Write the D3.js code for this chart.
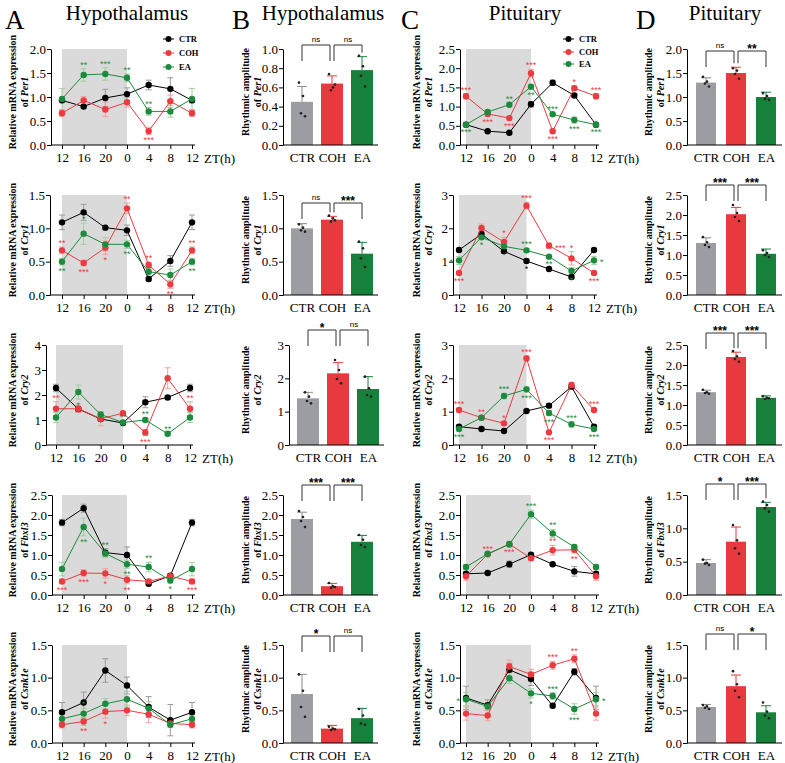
<!DOCTYPE html>
<html>
<head>
<meta charset="utf-8">
<script src="https://cdn.jsdelivr.net/npm/d3@7"></script>
<style>
  body { margin: 0; background: #fff; }
</style>
</head>
<body>
<div id="app"></div>
<script>
// Shared categories
const ztLabels = ["12", "16", "20", "0", "4", "8", "12"];
const groups = ["CTR", "COH", "EA"];
const genes = ["Per1", "Cry1", "Cry2", "Fbxl3", "Csnk1e"];
const SERIF = "Liberation Serif";

// Hypothalamus time courses: rows are CTR, COH, EA
const hypPer1 = [[0.93, 0.80, 0.98, 1.06, 1.25, 1.17, 0.93], [0.66, 0.93, 0.74, 0.89, 0.29, 0.91, 0.66], [0.96, 1.46, 1.48, 1.40, 0.70, 0.70, 0.96]];
const hypPer1Err = [[0.05, 0.04, 0.18, 0.13, 0.10, 0.23, 0.05], [0.06, 0.08, 0.15, 0.10, 0.07, 0.13, 0.06], [0.22, 0.13, 0.13, 0.08, 0.08, 0.12, 0.22]];
const hypPer1Sig = [[2, 1, "**", "u"], [2, 2, "***", "u"], [2, 3, "**", "u"], [2, 4, "**", "u"], [1, 4, "***", "d"]];

const hypCry1 = [[1.09, 1.24, 1.01, 0.97, 0.24, 0.51, 1.09], [0.67, 0.48, 0.71, 1.30, 0.45, 0.16, 0.67], [0.50, 0.92, 0.76, 0.76, 0.35, 0.30, 0.50]];
const hypCry1Err = [[0.11, 0.12, 0.02, 0.08, 0.03, 0.08, 0.11], [0.05, 0.04, 0.10, 0.08, 0.04, 0.06, 0.05], [0.05, 0.16, 0.10, 0.06, 0.05, 0.09, 0.05]];
const hypCry1Sig = [[1, 0, "**", "u"], [1, 1, "***", "d"], [1, 2, "*", "d"], [1, 3, "**", "u"], [1, 4, "**", "u"], [1, 5, "**", "d"], [1, 6, "**", "u"], [2, 0, "**", "d"], [2, 1, "*", "u"], [2, 3, "**", "d"], [2, 6, "**", "d"]];

const hypCry2 = [[2.28, 1.44, 1.04, 0.88, 1.71, 1.90, 2.28], [1.45, 1.45, 1.05, 1.27, 0.50, 2.67, 1.45], [1.10, 2.12, 1.22, 0.90, 1.00, 0.45, 1.10]];
const hypCry2Err = [[0.15, 0.10, 0.08, 0.06, 0.22, 0.08, 0.15], [0.28, 0.15, 0.28, 0.08, 0.12, 0.42, 0.28], [0.20, 0.28, 0.12, 0.06, 0.08, 0.05, 0.20]];
const hypCry2Sig = [[1, 0, "**", "u"], [1, 4, "***", "d"], [1, 6, "**", "u"], [2, 1, "*", "d"], [2, 3, "**", "u"], [2, 4, "**", "u"], [2, 5, "**", "u"]];

const hypFbxl3 = [[1.81, 2.17, 1.06, 1.00, 0.28, 0.48, 1.81], [0.34, 0.55, 0.54, 0.38, 0.34, 0.47, 0.34], [0.65, 1.70, 1.04, 0.77, 0.70, 0.36, 0.65]];
const hypFbxl3Err = [[0.08, 0.10, 0.10, 0.20, 0.03, 0.05, 0.08], [0.06, 0.08, 0.12, 0.10, 0.05, 0.05, 0.06], [0.17, 0.22, 0.10, 0.10, 0.12, 0.06, 0.17]];
const hypFbxl3Sig = [[1, 0, "***", "d"], [1, 1, "***", "d"], [1, 2, "*", "d"], [1, 3, "**", "d"], [1, 6, "***", "d"], [2, 1, "**", "d"], [2, 2, "**", "u"], [2, 3, "**", "d"], [2, 4, "**", "u"], [2, 5, "*", "d"]];

const hypCsnk1e = [[0.47, 0.62, 1.11, 0.88, 0.55, 0.35, 0.47], [0.28, 0.33, 0.48, 0.50, 0.44, 0.30, 0.28], [0.37, 0.45, 0.60, 0.67, 0.53, 0.28, 0.37]];
const hypCsnk1eErr = [[0.15, 0.16, 0.18, 0.13, 0.16, 0.24, 0.15], [0.05, 0.06, 0.10, 0.08, 0.13, 0.03, 0.05], [0.06, 0.08, 0.08, 0.12, 0.10, 0.04, 0.06]];
const hypCsnk1eSig = [[1, 1, "**", "d"], [1, 2, "*", "d"], [2, 1, "*", "u"]];

// Pituitary time courses: rows are CTR, COH, EA
const pitPer1 = [[0.53, 0.36, 0.32, 1.06, 1.62, 1.29, 0.53], [1.27, 0.81, 0.70, 1.87, 0.36, 1.48, 1.27], [0.53, 0.86, 1.05, 1.52, 0.80, 0.65, 0.53]];
const pitPer1Err = [[0.04, 0.03, 0.03, 0.07, 0.07, 0.05, 0.04], [0.07, 0.05, 0.04, 0.10, 0.05, 0.06, 0.07], [0.04, 0.05, 0.05, 0.06, 0.04, 0.08, 0.04]];
const pitPer1Sig = [[1, 0, "***", "u"], [1, 1, "***", "d"], [1, 2, "***", "d"], [1, 3, "***", "u"], [1, 4, "***", "d"], [1, 5, "*", "u"], [1, 6, "***", "u"], [2, 0, "***", "d"], [2, 2, "**", "u"], [2, 3, "**", "d"], [2, 4, "***", "u"], [2, 5, "***", "d"], [2, 6, "***", "d"]];

const pitCry1 = [[1.35, 1.83, 1.31, 1.02, 0.78, 0.54, 1.35], [0.66, 2.01, 1.59, 2.68, 1.48, 1.10, 0.66], [1.04, 1.73, 1.46, 1.34, 1.15, 0.72, 1.04]];
const pitCry1Err = [[0.05, 0.08, 0.05, 0.05, 0.04, 0.05, 0.05], [0.05, 0.12, 0.14, 0.10, 0.08, 0.20, 0.05], [0.12, 0.06, 0.06, 0.06, 0.05, 0.10, 0.12]];
const pitCry1Sig = [[1, 0, "***", "d"], [1, 2, "*", "u"], [1, 3, "***", "u"], [1, 4, "***", "r"], [1, 5, "*", "u"], [1, 6, "***", "d"], [2, 0, "*", "l"], [2, 1, "*", "d"], [2, 3, "***", "u"], [0, 3, "*", "d"], [2, 4, "**", "d"], [2, 5, "*", "d"], [2, 6, "*", "r"]];

const pitCry2 = [[0.55, 0.48, 0.42, 1.02, 1.18, 1.75, 0.55], [1.05, 0.82, 0.65, 2.60, 0.38, 1.80, 1.05], [0.48, 0.82, 1.47, 1.67, 0.96, 0.62, 0.48]];
const pitCry2Err = [[0.05, 0.04, 0.04, 0.04, 0.06, 0.06, 0.05], [0.05, 0.06, 0.05, 0.08, 0.04, 0.08, 0.05], [0.05, 0.06, 0.08, 0.08, 0.08, 0.08, 0.05]];
const pitCry2Sig = [[1, 0, "***", "u"], [1, 1, "**", "u"], [1, 2, "*", "u"], [1, 3, "***", "u"], [1, 4, "***", "d"], [1, 6, "***", "u"], [2, 0, "***", "d"], [2, 2, "***", "u"], [2, 3, "***", "d"], [2, 4, "***", "d"], [2, 5, "***", "u"], [2, 6, "***", "d"]];

const pitFbxl3 = [[0.53, 0.55, 0.77, 1.01, 0.77, 0.59, 0.53], [0.47, 1.02, 1.27, 0.92, 1.12, 1.13, 0.47], [0.70, 1.03, 1.27, 2.02, 1.54, 1.20, 0.70]];
const pitFbxl3Err = [[0.05, 0.03, 0.08, 0.04, 0.03, 0.12, 0.05], [0.10, 0.04, 0.05, 0.05, 0.12, 0.08, 0.10], [0.06, 0.04, 0.08, 0.10, 0.10, 0.06, 0.06]];
const pitFbxl3Sig = [[1, 1, "***", "u"], [1, 2, "***", "d"], [1, 4, "**", "u"], [1, 5, "**", "d"], [2, 3, "***", "u"], [2, 4, "**", "u"]];

const pitCsnk1e = [[0.69, 0.58, 1.12, 0.98, 0.57, 1.09, 0.69], [0.45, 0.42, 1.17, 1.05, 1.19, 1.29, 0.45], [0.67, 0.56, 0.99, 0.76, 0.72, 0.52, 0.67]];
const pitCsnk1eErr = [[0.18, 0.08, 0.10, 0.10, 0.03, 0.05, 0.18], [0.10, 0.08, 0.10, 0.08, 0.06, 0.06, 0.10], [0.10, 0.04, 0.08, 0.07, 0.05, 0.08, 0.10]];
const pitCsnk1eSig = [[1, 4, "***", "u"], [1, 5, "**", "u"], [2, 0, "*", "l"], [2, 3, "*", "d"], [2, 4, "***", "u"], [2, 5, "***", "d"], [2, 6, "*", "r"]];

// Rhythmic amplitude bars (CTR, COH, EA), SD, individual animals, comparisons
const ampHypPer1 = [0.45, 0.64, 0.78], ampHypPer1Sd = [0.16, 0.08, 0.14];
const ampHypPer1Dots = [[0.65, 0.51, 0.33, 0.30], [0.74, 0.60, 0.57, 0.63], [0.93, 0.82, 0.72, 0.61]];
const ampHypPer1Sig = ["ns", "ns"];
const ampHypCry1 = [1.00, 1.13, 0.62], ampHypCry1Sd = [0.07, 0.05, 0.17];
const ampHypCry1Dots = [[1.06, 1.01, 0.97, 0.95], [1.19, 1.15, 1.10, 1.12], [0.80, 0.70, 0.55, 0.42]];
const ampHypCry1Sig = ["ns", "***"];
const ampHypCry2 = [1.40, 2.15, 1.68], ampHypCry2Sd = [0.18, 0.32, 0.37];
const ampHypCry2Dots = [[1.58, 1.45, 1.32, 1.25], [2.55, 2.25, 1.98, 1.85], [2.05, 1.70, 1.50, 1.45]];
const ampHypCry2Sig = ["*", "ns"];
const ampHypFbxl3 = [1.90, 0.22, 1.33], ampHypFbxl3Sd = [0.17, 0.07, 0.16];
const ampHypFbxl3Dots = [[2.10, 1.95, 1.85, 1.70], [0.30, 0.22, 0.18, 0.20], [1.50, 1.38, 1.25, 1.20]];
const ampHypFbxl3Sig = ["***", "***"];
const ampHypCsnk1e = [0.75, 0.22, 0.38], ampHypCsnk1eSd = [0.30, 0.05, 0.15];
const ampHypCsnk1eDots = [[1.05, 0.80, 0.55, 0.40], [0.25, 0.22, 0.20, 0.21], [0.52, 0.42, 0.30, 0.28]];
const ampHypCsnk1eSig = ["*", "ns"];

const ampPitPer1 = [1.30, 1.50, 1.00], ampPitPer1Sd = [0.10, 0.12, 0.10];
const ampPitPer1Dots = [[1.42, 1.32, 1.28, 1.22], [1.60, 1.55, 1.48, 1.38], [1.08, 1.02, 0.96, 0.94]];
const ampPitPer1Sig = ["ns", "**"];
const ampPitCry1 = [1.30, 2.02, 1.03], ampPitCry1Sd = [0.13, 0.17, 0.12];
const ampPitCry1Dots = [[1.45, 1.32, 1.25, 1.20], [2.25, 2.05, 1.95, 1.85], [1.12, 1.05, 1.00, 0.95]];
const ampPitCry1Sig = ["***", "***"];
const ampPitCry2 = [1.32, 2.20, 1.18], ampPitCry2Sd = [0.05, 0.12, 0.05];
const ampPitCry2Dots = [[1.38, 1.32, 1.30, 1.28], [2.35, 2.22, 2.15, 2.08], [1.22, 1.18, 1.15, 1.17]];
const ampPitCry2Sig = ["***", "***"];
const ampPitFbxl3 = [0.48, 0.80, 1.32], ampPitFbxl3Sd = [0.05, 0.22, 0.07];
const ampPitFbxl3Dots = [[0.53, 0.48, 0.47, 0.45], [1.05, 0.82, 0.70, 0.62], [1.40, 1.35, 1.30, 1.25]];
const ampPitFbxl3Sig = ["*", "***"];
const ampPitCsnk1e = [0.55, 0.87, 0.47], ampPitCsnk1eSd = [0.04, 0.17, 0.10];
const ampPitCsnk1eDots = [[0.58, 0.56, 0.54, 0.52], [1.10, 0.90, 0.80, 0.70], [0.62, 0.48, 0.42, 0.38]];
const ampPitCsnk1eSig = ["ns", "*"];

// Y axis tick values per row
const hypTicks = [[0, 0.5, 1, 1.5, 2], [0, 0.5, 1, 1.5], [0, 1, 2, 3, 4], [0, 0.5, 1, 1.5, 2, 2.5], [0, 0.5, 1, 1.5]];
const pitTicks = [[0, 0.5, 1, 1.5, 2, 2.5], [0, 1, 2, 3], [0, 1, 2, 3], [0, 0.5, 1, 1.5, 2, 2.5], [0, 0.5, 1, 1.5]];
const ampHypTicks = [[0, 0.2, 0.4, 0.6, 0.8, 1.0], [0, 0.5, 1, 1.5], [0, 1, 2, 3], [0, 0.5, 1, 1.5, 2, 2.5], [0, 0.5, 1, 1.5]];
const ampPitTicks = [[0, 0.5, 1, 1.5, 2], [0, 0.5, 1, 1.5, 2, 2.5], [0, 0.5, 1, 1.5, 2, 2.5], [0, 0.5, 1, 1.5], [0, 0.5, 1, 1.5]];

const lineColor = ["#000000", "#ec3b40", "#1d8b3e"];
const errColor = ["#9a9a9a", "#f4a0a0", "#9fcf9f"];
const barColor = ["#9c9ca3", "#e8393e", "#17803b"];

const svg = d3.select("#app").append("svg")
  .attr("width", 785).attr("height", 763)
  .attr("font-family", SERIF);

// Row geometry
const rowTop = (r) => (r === 0 ? 49 : 45 + 150 * r);
const rowBottom = (r) => (r === 4 ? 743 : 145 + 150 * r);

function fmtFor(ticks) {
  return ticks.every((t) => Number.isInteger(t)) ? d3.format("d") : d3.format(".1f");
}

function yTitle(g, cx, cy, line1, gene) {
  const t = g.append("text")
    .attr("transform", `translate(${cx},${cy}) rotate(-90)`)
    .attr("text-anchor", "middle")
    .attr("font-family", SERIF)
    .attr("font-weight", "bold")
    .attr("font-size", 10);
  t.append("tspan").attr("x", 0).attr("y", 0).text(line1);
  const t2 = t.append("tspan").attr("x", 0).attr("dy", 11.5);
  t2.append("tspan").text("of ");
  t2.append("tspan").attr("font-style", "italic").text(gene);
}

function styleAxis(g) {
  g.attr("font-family", SERIF);
  g.selectAll("text").attr("font-family", SERIF).attr("font-size", 13).attr("fill", "#000");
  g.selectAll("line").attr("stroke", "#000");
  g.selectAll("path").attr("stroke", "#000");
}

function drawLinePanel(r, lay, series, errs, sigs, ticks, gene, titleX) {
  const top = rowTop(r), bottom = rowBottom(r);
  const x = d3.scaleLinear().domain([0, 6]).range([lay.x0[r], lay.x1[r]]);
  const y = d3.scaleLinear().domain([0, d3.max(ticks)]).range([bottom, top]);
  const g = svg.append("g");

  // dark phase shading
  g.append("rect")
    .attr("x", x(0)).attr("y", top)
    .attr("width", x(3) - x(0)).attr("height", bottom - top)
    .attr("fill", "#d9dad9");

  // y axis
  g.append("g").attr("transform", `translate(${lay.ax[r]},0)`)
    .call(d3.axisLeft(y).tickValues(ticks).tickFormat(fmtFor(ticks)).tickSize(4).tickSizeOuter(0).tickPadding(1))
    .call(styleAxis);

  // x axis
  const xa = g.append("g").attr("transform", `translate(0,${bottom})`)
    .call(d3.axisBottom(x).tickValues(d3.range(7)).tickFormat((i) => ztLabels[i]).tickSize(4).tickPadding(4))
    .call(styleAxis);
  xa.select(".domain").remove();
  g.append("line").attr("x1", lay.ax[r]).attr("x2", lay.x1[r] + 3)
    .attr("y1", bottom).attr("y2", bottom).attr("stroke", "#000");
  g.append("text").attr("x", lay.x1[r] + 12).attr("y", bottom + 18)
    .attr("font-family", SERIF).attr("font-size", 13).text("ZT(h)");

  // series
  series.forEach((vals, k) => {
    const eg = g.append("g").attr("stroke", errColor[k]).attr("stroke-width", 1);
    vals.forEach((v, i) => {
      const e = errs[k][i];
      eg.append("line").attr("x1", x(i)).attr("x2", x(i)).attr("y1", y(v - e)).attr("y2", y(v + e));
      eg.append("line").attr("x1", x(i) - 3).attr("x2", x(i) + 3).attr("y1", y(v + e)).attr("y2", y(v + e));
      eg.append("line").attr("x1", x(i) - 3).attr("x2", x(i) + 3).attr("y1", y(v - e)).attr("y2", y(v - e));
    });
  });
  series.forEach((vals, k) => {
    g.append("path").datum(vals)
      .attr("fill", "none").attr("stroke", lineColor[k]).attr("stroke-width", 1)
      .attr("d", d3.line().x((d, i) => x(i)).y((d) => y(d)));
    g.append("g").selectAll("circle").data(vals).join("circle")
      .attr("cx", (d, i) => x(i)).attr("cy", (d) => y(d)).attr("r", 3.2)
      .attr("fill", lineColor[k]);
  });

  // significance marks
  sigs.forEach(([k, i, label, dir]) => {
    const v = series[k][i], e = errs[k][i];
    let tx = x(i), ty, anchor = "middle";
    if (dir === "u") ty = y(v + e) - 1;
    else if (dir === "d") ty = y(v - e) + 9;
    else { ty = y(v) + 5; tx = dir === "l" ? x(i) - 6 : x(i) + 6; anchor = dir === "l" ? "end" : "start"; }
    g.append("text").attr("x", tx).attr("y", ty).attr("text-anchor", anchor)
      .attr("font-size", 9).attr("font-family", "Liberation Sans").attr("fill", lineColor[k]).text(label);
  });

  yTitle(g, titleX, (top + bottom) / 2 - 5, "Relative mRNA expression", gene);
  return g;
}

function drawBarPanel(r, lay, means, sds, dots, sig, ticks, gene, titleX) {
  const top = rowTop(r), bottom = rowBottom(r);
  const ax = lay.ax[r];
  const x = d3.scalePoint().domain(groups).range([ax + 19, ax + 79]);
  const y = d3.scaleLinear().domain([0, d3.max(ticks)]).range([bottom, top]);
  const bw = lay.bw;
  const g = svg.append("g");

  g.append("g").selectAll("rect").data(means).join("rect")
    .attr("x", (d, i) => x(groups[i]) - bw / 2).attr("y", (d) => y(d))
    .attr("width", bw).attr("height", (d) => bottom - y(d))
    .attr("fill", (d, i) => barColor[i]);

  means.forEach((m, i) => {
    const cx = x(groups[i]);
    const eg = g.append("g").attr("stroke", i === 0 ? "#8a8a90" : barColor[i]).attr("stroke-width", 1);
    eg.append("line").attr("x1", cx).attr("x2", cx).attr("y1", y(m + sds[i])).attr("y2", y(m));
    eg.append("line").attr("x1", cx - 5).attr("x2", cx + 5).attr("y1", y(m + sds[i])).attr("y2", y(m + sds[i]));
    g.append("g").selectAll("circle").data(dots[i]).join("circle")
      .attr("cx", (d, j) => cx + [-3, 1, -1, 3][j]).attr("cy", (d) => y(d)).attr("r", 1.3)
      .attr("fill", "#222");
  });

  g.append("g").attr("transform", `translate(${ax},0)`)
    .call(d3.axisLeft(y).tickValues(ticks).tickFormat(fmtFor(ticks)).tickSize(4).tickSizeOuter(0).tickPadding(1))
    .call(styleAxis);
  const xa = g.append("g").attr("transform", `translate(0,${bottom})`)
    .call(d3.axisBottom(x).tickSize(0).tickPadding(8))
    .call(styleAxis);
  xa.select(".domain").remove();
  g.append("line").attr("x1", ax).attr("x2", ax + 95).attr("y1", bottom).attr("y2", bottom).attr("stroke", "#000");

  // comparison brackets
  const by = top + lay.bracket[r];
  const pairs = [[0, 1], [1, 2]];
  pairs.forEach(([a, b], p) => {
    const xa1 = x(groups[a]) + (p === 1 ? 2 : 0);
    const xb1 = x(groups[b]) - (p === 0 ? 2 : 0);
    const legA = Math.max(by + 4, Math.min(by + 16, y(means[a] + sds[a]) - 4));
    const legB = Math.max(by + 4, Math.min(by + 16, y(means[b] + sds[b]) - 4));
    g.append("path")
      .attr("d", `M${xa1},${legA}V${by}H${xb1}V${legB}`)
      .attr("fill", "none").attr("stroke", "#333").attr("stroke-width", 1);
    const lab = sig[p];
    g.append("text").attr("x", (xa1 + xb1) / 2).attr("y", lab === "ns" ? by - 3 : by + 2)
      .attr("text-anchor", "middle")
      .attr("font-family", "Liberation Sans")
      .attr("font-size", lab === "ns" ? 8 : 12)
      .attr("font-weight", lab === "ns" ? "normal" : "bold")
      .text(lab);
  });

  yTitle(g, titleX, (top + bottom) / 2 - 5, "Rhythmic amplitude", gene);
}

// Panel layouts
const layA = { ax: [51, 50, 46, 52, 52], x0: [62, 62, 56, 62, 62], x1: [192, 192, 190, 192, 192] };
const layC = { ax: [460, 453, 453, 460, 460], x0: [466, 459, 459, 466, 466], x1: [596, 594, 594, 596, 596] };
const layB = { ax: [283, 283, 289, 283, 283], bw: 22, bracket: [-4, 8, -15, -10, -9] };
const layD = { ax: [687, 687, 687, 687, 687], bw: 20, bracket: [2, -10, -12, -11, -11] };

const hypSeries = [hypPer1, hypCry1, hypCry2, hypFbxl3, hypCsnk1e];
const hypErrs = [hypPer1Err, hypCry1Err, hypCry2Err, hypFbxl3Err, hypCsnk1eErr];
const hypSigs = [hypPer1Sig, hypCry1Sig, hypCry2Sig, hypFbxl3Sig, hypCsnk1eSig];
const pitSeries = [pitPer1, pitCry1, pitCry2, pitFbxl3, pitCsnk1e];
const pitErrs = [pitPer1Err, pitCry1Err, pitCry2Err, pitFbxl3Err, pitCsnk1eErr];
const pitSigs = [pitPer1Sig, pitCry1Sig, pitCry2Sig, pitFbxl3Sig, pitCsnk1eSig];
const ampHyp = [[ampHypPer1, ampHypPer1Sd, ampHypPer1Dots, ampHypPer1Sig], [ampHypCry1, ampHypCry1Sd, ampHypCry1Dots, ampHypCry1Sig], [ampHypCry2, ampHypCry2Sd, ampHypCry2Dots, ampHypCry2Sig], [ampHypFbxl3, ampHypFbxl3Sd, ampHypFbxl3Dots, ampHypFbxl3Sig], [ampHypCsnk1e, ampHypCsnk1eSd, ampHypCsnk1eDots, ampHypCsnk1eSig]];
const ampPit = [[ampPitPer1, ampPitPer1Sd, ampPitPer1Dots, ampPitPer1Sig], [ampPitCry1, ampPitCry1Sd, ampPitCry1Dots, ampPitCry1Sig], [ampPitCry2, ampPitCry2Sd, ampPitCry2Dots, ampPitCry2Sig], [ampPitFbxl3, ampPitFbxl3Sd, ampPitFbxl3Dots, ampPitFbxl3Sig], [ampPitCsnk1e, ampPitCsnk1eSd, ampPitCsnk1eDots, ampPitCsnk1eSig]];

genes.forEach((gene, r) => {
  drawLinePanel(r, layA, hypSeries[r], hypErrs[r], hypSigs[r], hypTicks[r], gene, 16);
  drawLinePanel(r, layC, pitSeries[r], pitErrs[r], pitSigs[r], pitTicks[r], gene, 420);
  drawBarPanel(r, layB, ...ampHyp[r], ampHypTicks[r], gene, 249);
  drawBarPanel(r, layD, ...ampPit[r], ampPitTicks[r], gene, 652);
});

// Legends
function legend(x0, ys) {
  groups.forEach((name, k) => {
    svg.append("line").attr("x1", x0).attr("x2", x0 + 11).attr("y1", ys[k]).attr("y2", ys[k])
      .attr("stroke", lineColor[k]);
    svg.append("circle").attr("cx", x0 + 5.5).attr("cy", ys[k]).attr("r", 3).attr("fill", lineColor[k]);
    svg.append("text").attr("x", x0 + 16).attr("y", ys[k] + 3).attr("font-size", 8.5)
      .attr("font-family", SERIF).attr("font-weight", "bold").text(name);
  });
}
legend(163, [39, 53, 67]);
legend(563, [39, 52, 64]);

// Panel letters and titles
const heads = [["A", 5, "Hypothalamus", 127], ["B", 232, "Hypothalamus", 323], ["C", 401, "Pituitary", 525], ["D", 636, "Pituitary", 725]];
heads.forEach(([letter, lx, title, tx]) => {
  svg.append("text").attr("x", lx).attr("y", 29).attr("font-family", SERIF).attr("font-size", 27).text(letter);
  svg.append("text").attr("x", tx).attr("y", 20).attr("font-family", SERIF).attr("font-size", 21)
    .attr("text-anchor", "middle").text(title);
});
</script>
</body>
</html>
